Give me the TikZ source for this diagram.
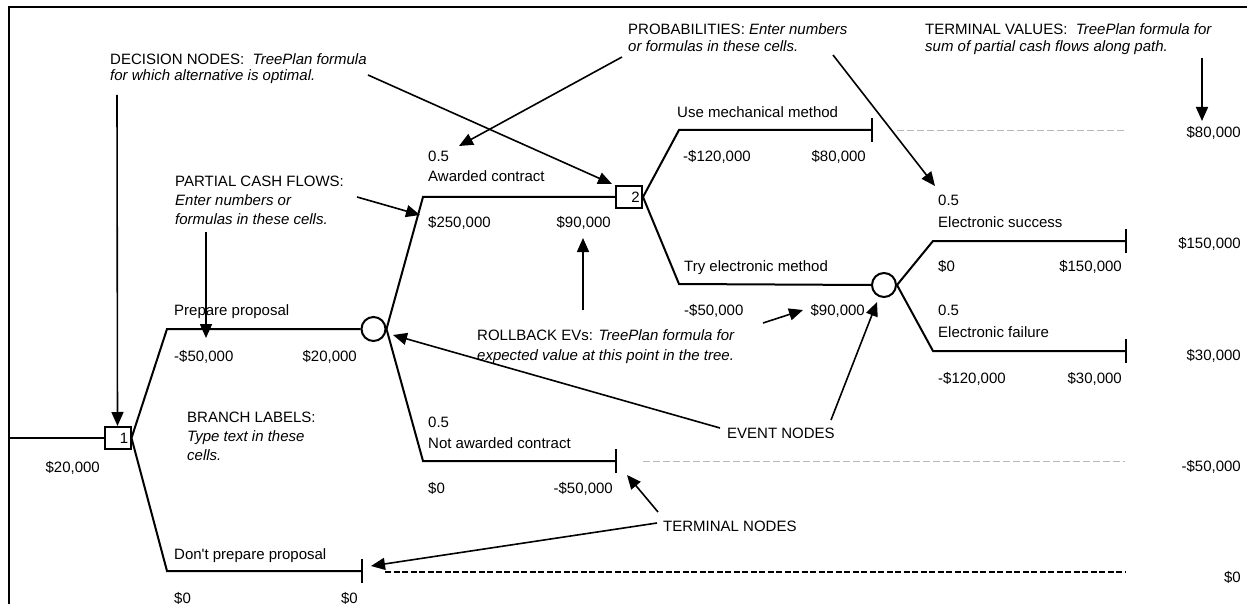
\documentclass[tikz,border=0pt]{standalone}
\usepackage{fontspec}
\setmainfont{Liberation Sans}
\usetikzlibrary{arrows.meta}

\begin{document}
\begin{tikzpicture}[x=1pt,y=-1pt,
  tree/.style={line width=2pt},
  txt/.style={font=\fontsize{15}{18}\selectfont, inner sep=0pt},
  lft/.style={txt, anchor=base west},
  rgt/.style={txt, anchor=base east},
  dbox/.style={draw, line width=2pt, minimum width=26pt, minimum height=22pt, inner sep=0pt},
  chance/.style={draw, circle, line width=2pt, minimum size=24pt, inner sep=0pt},
  callout/.style={line width=1.6pt, -{Triangle[length=14pt,width=12pt]}},
  guide/.style={draw=black!28, line width=0.8pt, dash pattern=on 7pt off 3pt},
  pathdash/.style={line width=1.8pt, dash pattern=on 6pt off 2.5pt}
]
\useasboundingbox (0,0) rectangle (1247,604);

% sheet frame
\coordinate (fbl) at (9,604);
\coordinate (ftl) at (9,7);
\coordinate (ftr) at (1247,7);
\draw[tree] (fbl) -- (ftl) -- (ftr);

% ---------------- tree nodes ----------------
\node[dbox] (d1) at (117.5,438) {};
\node[txt, anchor=east] (d1n) at ([xshift=-3pt]d1.east) {1};
\node[dbox] (d2) at (629,197) {};
\node[txt, anchor=east] (d2n) at ([xshift=-3pt]d2.east) {2};
\node[chance] (c1) at (373.5,329) {};
\node[chance] (c2) at (884,285) {};

\coordinate (stem) at (9,438);
% branch corners
\coordinate (bPrep) at (167,329);
\coordinate (bDont) at (167,571);
\coordinate (bAw) at (423,197);
\coordinate (bNot) at (423,461);
\coordinate (bMech) at (679,130);
\coordinate (bElec) at (679,284);
\coordinate (bSucc) at (933,241);
\coordinate (bFail) at (933,351);
% terminal nodes
\coordinate (tDont) at (362,571);
\coordinate (tNot) at (616,461);
\coordinate (tMech) at (872,130);
\coordinate (tSucc) at (1126,241);
\coordinate (tFail) at (1126,351);

\draw[tree] (stem) -- (d1.west);
\draw[tree] (d1.east) -- (bPrep) -- (c1.west);
\draw[tree] (d1.east) -- (bDont) -- (tDont);
\draw[tree] (c1.east) -- (bAw) -- (d2.west);
\draw[tree] (c1.east) -- (bNot) -- (tNot);
\draw[tree] (d2.east) -- (bMech) -- (tMech);
\draw[tree] (d2.east) -- (bElec) -- (c2.west);
\draw[tree] (c2.east) -- (bSucc) -- (tSucc);
\draw[tree] (c2.east) -- (bFail) -- (tFail);

% terminal ticks
\foreach \t in {tDont,tNot,tMech,tSucc,tFail}
  \draw[tree] ([yshift=-12pt]\t) -- ([yshift=12pt]\t);

% guide lines to the terminal values
\coordinate (gMechA) at (897,130);  \coordinate (gMechB) at (1127,130);
\coordinate (gNotA) at (643,461);   \coordinate (gNotB) at (1125,461);
\coordinate (gDontA) at (385,572);  \coordinate (gDontB) at (1126,572);
\draw[guide] (gMechA) -- (gMechB);
\draw[guide] (gNotA) -- (gNotB);
\draw[pathdash] (gDontA) -- (gDontB);

% ---------------- branch texts ----------------
\node[rgt] (rootv) at (100,472) {\$20,000};

\node[lft] (lPrep) at (174,315) {Prepare proposal};
\node[lft] (cfPrep) at (174,361) {-\$50,000};
\node[rgt] (evPrep) at (357,361) {\$20,000};

\node[lft] (lDont) at (174,559) {Don\textquotesingle t prepare proposal};
\node[lft] (cfDont) at (174,603) {\$0};
\node[rgt] (evDont) at (358,603) {\$0};

\node[lft] (pAw) at (428,162) {0.5};
\node[lft] (lAw) at (428,182) {Awarded contract};
\node[lft] (cfAw) at (428,227) {\$250,000};
\node[rgt] (evAw) at (611,227) {\$90,000};

\node[lft] (pNot) at (428,427) {0.5};
\node[lft] (lNot) at (428,448) {Not awarded contract};
\node[lft] (cfNot) at (428,493) {\$0};
\node[rgt] (evNot) at (613,493) {-\$50,000};

\node[lft] (lMech) at (677,118) {Use mechanical method};
\node[lft] (cfMech) at (683,162) {-\$120,000};
\node[rgt] (evMech) at (866,162) {\$80,000};

\node[lft] (lElec) at (684,271) {Try electronic method};
\node[lft] (cfElec) at (684,315) {-\$50,000};
\node[rgt] (evElec) at (865,315) {\$90,000};

\node[lft] (pSucc) at (938,206) {0.5};
\node[lft] (lSucc) at (938,227) {Electronic success};
\node[lft] (cfSucc) at (938,271) {\$0};
\node[rgt] (evSucc) at (1122,271) {\$150,000};

\node[lft] (pFail) at (938,315) {0.5};
\node[lft] (lFail) at (938,337) {Electronic failure};
\node[lft] (cfFail) at (938,383) {-\$120,000};
\node[rgt] (evFail) at (1122,383) {\$30,000};

% terminal values
\node[rgt] (vMech) at (1241,138) {\$80,000};
\node[rgt] (vSucc) at (1241,248) {\$150,000};
\node[rgt] (vFail) at (1241,360) {\$30,000};
\node[rgt] (vNot) at (1241,471) {-\$50,000};
\node[rgt] (vDont) at (1241,582) {\$0};

% ---------------- annotations ----------------
\node[lft] (decA) at (110,65) {DECISION NODES:\ \ \textit{TreePlan formula}};
\node[lft] (decB) at (110,81) {\textit{for which alternative is optimal.}};

\node[lft] (probA) at (628,35) {PROBABILITIES: \textit{Enter numbers}};
\node[lft] (probB) at (628,52) {\textit{or formulas in these cells.}};

\node[lft] (termA) at (925,35) {TERMINAL VALUES:\ \ \textit{TreePlan formula for}};
\node[lft] (termB) at (925,52) {\textit{sum of partial cash flows along path.}};

\node[lft] (pcfA) at (175,187) {PARTIAL CASH FLOWS:};
\node[lft] (pcfB) at (175,206) {\textit{Enter numbers or}};
\node[lft] (pcfC) at (175,225) {\textit{formulas in these cells.}};

\node[lft] (rbA) at (477,340) {ROLLBACK EVs: \textit{TreePlan formula for}};
\node[lft] (rbB) at (477,360) {\textit{expected value at this point in the tree.}};

\node[lft] (blA) at (187,422) {BRANCH LABELS:};
\node[lft] (blB) at (187,441) {\textit{Type text in these}};
\node[lft] (blC) at (187,460) {\textit{cells.}};

\node[lft] (evn) at (727,438) {EVENT NODES};
\node[lft] (tmn) at (663,531) {TERMINAL NODES};

% callout arrows
\coordinate (aDec1) at (117,95);
\coordinate (aDec2) at (368,75);   \coordinate (hDec2) at (612,184);
\coordinate (aProb1) at (622,57);  \coordinate (hProb1) at (459,146);
\coordinate (aProb2) at (833,55);  \coordinate (hProb2) at (935,186);
\coordinate (aTerm) at (1202,58);  \coordinate (hTerm) at (1202,121);
\coordinate (aPcf1) at (357,197);  \coordinate (hPcf1) at (420,215);
\coordinate (aPcf2) at (206,232);  \coordinate (hPcf2) at (206,338);
\coordinate (aRb1) at (583,310);   \coordinate (hRb1) at (583,238);
\coordinate (aRb2) at (763,323);   \coordinate (hRb2) at (803,310);
\coordinate (aEv1) at (720,428);   \coordinate (hEv1) at (393,335);
\coordinate (aEv2) at (831,420);   \coordinate (hEv2) at (877,302);
\coordinate (aTn1) at (658,512);   \coordinate (hTn1) at (627,475);
\coordinate (aTn2) at (657,523);   \coordinate (hTn2) at (371,566);

\draw[callout] (aDec1) -- (d1.north);
\draw[callout] (aDec2) -- (hDec2);
\draw[callout] (aProb1) -- (hProb1);
\draw[callout] (aProb2) -- (hProb2);
\draw[callout] (aTerm) -- (hTerm);
\draw[callout] (aPcf1) -- (hPcf1);
\draw[callout] (aPcf2) -- (hPcf2);
\draw[callout] (aRb1) -- (hRb1);
\draw[callout] (aRb2) -- (hRb2);
\draw[callout] (aEv1) -- (hEv1);
\draw[callout] (aEv2) -- (hEv2);
\draw[callout] (aTn1) -- (hTn1);
\draw[callout] (aTn2) -- (hTn2);
\end{tikzpicture}
\end{document}
